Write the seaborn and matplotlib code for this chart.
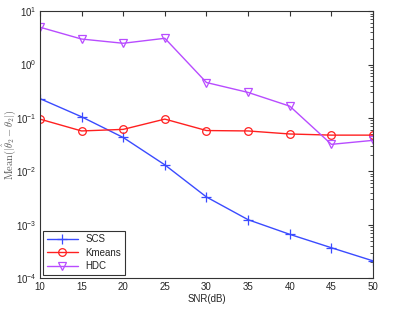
import numpy as np
import pandas as pd
import seaborn as sns
import matplotlib
matplotlib.use("Agg")
import matplotlib.pyplot as plt
from matplotlib.ticker import LogLocator, NullFormatter

snr = [10, 15, 20, 25, 30, 35, 40, 45, 50]
scs = [0.23, 0.105, 0.043, 0.0132, 0.0033, 0.00124, 0.00066, 0.00037, 0.00021]
kmeans = [0.095, 0.057, 0.061, 0.095, 0.058, 0.057, 0.050, 0.0476, 0.0476]
hdc = [5.0, 3.0, 2.5, 3.1, 0.46, 0.30, 0.166, 0.032, 0.038]
series_names = ["SCS", "Kmeans", "HDC"]

df = pd.DataFrame({
    "SNR": snr * 3,
    "value": scs + kmeans + hdc,
    "method": sum([[n] * len(snr) for n in series_names], []),
})

sns.set_style("white")
plt.rcParams['font.family'] = ['Liberation Sans', 'DejaVu Sans']
plt.rcParams['mathtext.fontset'] = 'cm'

fig = plt.figure(figsize=(3.99, 3.09), dpi=100)
ax = fig.add_axes([0.100, 0.100, 0.835, 0.864])

palette = {"SCS": "#3b4bff", "Kmeans": "#ff2020", "HDC": "#b84cff"}
markers = {"SCS": "+", "Kmeans": "o", "HDC": "v"}
for name in series_names:
    sub = df[df["method"] == name]
    sns.lineplot(data=sub, x="SNR", y="value", ax=ax, color=palette[name],
                 marker=markers[name], markersize=5.5 if name != "SCS" else 6.5,
                 markerfacecolor="none", markeredgecolor=palette[name],
                 markeredgewidth=0.9, linewidth=1.0, label=name)

ax.set_yscale("log")
ax.set_xlim(10, 50)
ax.set_ylim(1e-4, 1e1)
ax.set_xticks(snr)
ax.yaxis.set_major_locator(LogLocator(base=10, numticks=10))
ax.yaxis.set_minor_locator(LogLocator(base=10, subs=np.arange(2, 10), numticks=20))
ax.yaxis.set_minor_formatter(NullFormatter())
ax.tick_params(axis="both", which="both", direction="in", top=True, right=True,
               labelsize=7, color="#333333", pad=2.5)
ax.tick_params(axis="both", which="major", length=3.5)
ax.tick_params(axis="both", which="minor", length=2)
for s in ax.spines.values():
    s.set_color("#333333")
    s.set_linewidth(0.8)

ax.set_xlabel("SNR(dB)", fontsize=7, labelpad=2)
ax.set_ylabel(r"$\mathrm{Mean}(|\hat{\theta}_2-\theta_2|)$", fontsize=7.5,
              color="#555555", va="center")
ax.yaxis.set_label_coords(-0.093, 0.5)

leg = ax.legend(loc="lower left", fontsize=7, frameon=True, fancybox=False,
                edgecolor="black", borderpad=0.4, handlelength=3.2,
                labelspacing=0.35, borderaxespad=0.3)
leg.get_frame().set_linewidth(0.8)

fig.savefig("out.png", dpi=100, facecolor="white")
